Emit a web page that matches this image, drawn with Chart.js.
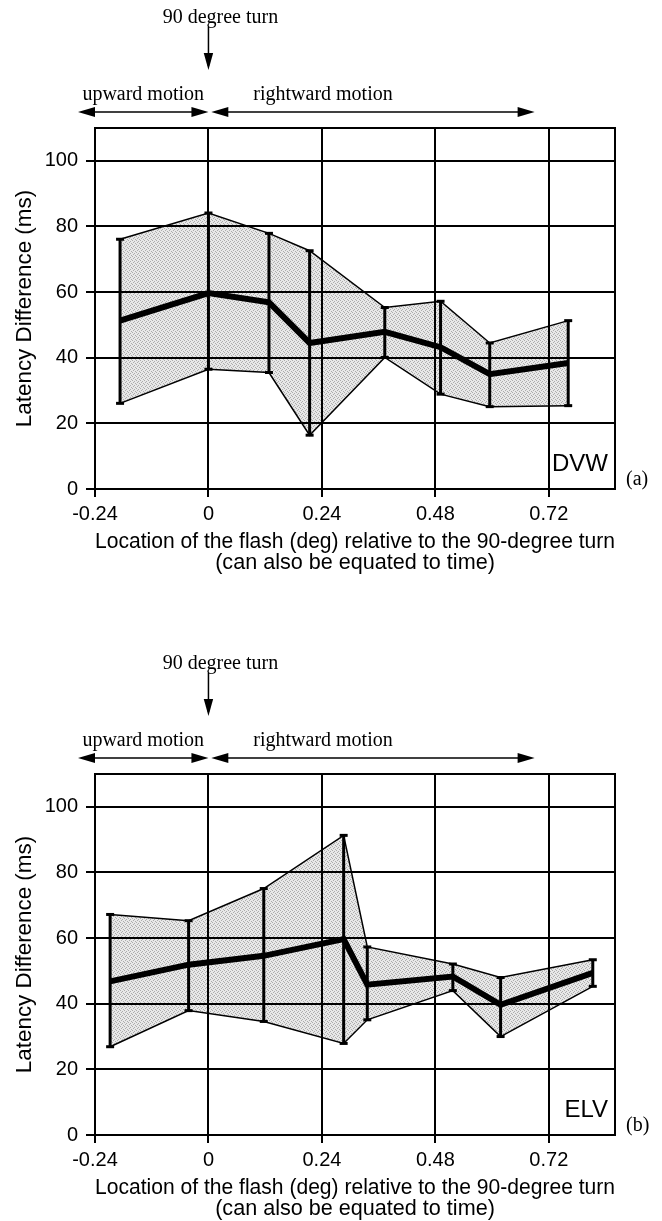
<!DOCTYPE html>
<html>
<head>
<meta charset="utf-8">
<script src="https://cdn.jsdelivr.net/npm/chart.js@4.4.0/dist/chart.umd.min.js"></script>
<style>
  html, body { margin: 0; padding: 0; background: #fff; }
  body { width: 662px; height: 1221px; position: relative; overflow: hidden; }
  canvas { position: absolute; left: 0; }
  #chartA { top: 0; }
  #chartB { top: 646px; }
</style>
</head>
<body>
<canvas id="chartA" width="662" height="575"></canvas>
<canvas id="chartB" width="662" height="575"></canvas>
<script>
'use strict';

// ticks
const xTicks = [-0.24, 0, 0.24, 0.48, 0.72];
const yTicks = [0, 20, 40, 60, 80, 100];

// (a) DVW
const dvwX    = [-0.187, 0, 0.128, 0.214, 0.373, 0.491, 0.595, 0.761];
const dvwMean = [51.3, 59.7, 56.9, 44.5, 47.9, 43.2, 35.0, 38.4];
const dvwHigh = [76.1, 84.1, 77.9, 72.6, 55.3, 57.2, 44.5, 51.3];
const dvwLow  = [26.1, 36.5, 35.5, 16.4, 40.1, 28.9, 25.1, 25.4];

// (b) ELV
const elvX    = [-0.208, -0.042, 0.117, 0.286, 0.336, 0.517, 0.618, 0.813];
const elvMean = [46.8, 51.9, 54.6, 59.7, 45.8, 48.3, 39.7, 49.4];
const elvHigh = [67.2, 65.3, 75.1, 91.3, 57.3, 52.1, 48.0, 53.4];
const elvLow  = [26.9, 37.9, 34.6, 27.9, 35.1, 44.0, 30.0, 45.3];

// anotaciones de arriba (en unidades del eje x)
const turnX = 0;
const upwardSpan = [-0.276, 0];
const rightwardSpan = [0.006, 0.69];

const SANS = '"Liberation Sans", Arial, sans-serif';
const SERIF = '"Liberation Serif", "Times New Roman", serif';

function patronGris() {
    const c = document.createElement('canvas');
    c.width = 4; c.height = 4;
    const g = c.getContext('2d');
    g.fillStyle = 'rgba(0,0,0,0.09)';
    g.fillRect(0, 0, 4, 4);
    g.fillStyle = 'rgba(0,0,0,0.26)';
    g.fillRect(0, 0, 1, 1);
    g.fillRect(2, 1, 1, 1);
    g.fillRect(1, 2, 1, 1);
    g.fillRect(3, 3, 1, 1);
    return g.createPattern(c, 'repeat');
}

function punta(ctx, x, y, ang, largo, ancho) {
    ctx.save();
    ctx.translate(x, y);
    ctx.rotate(ang);
    ctx.beginPath();
    ctx.moveTo(0, 0);
    ctx.lineTo(-largo, -ancho);
    ctx.lineTo(-largo, ancho);
    ctx.closePath();
    ctx.fill();
    ctx.restore();
}

// barras de error + marco + textos
const extras = {
    id: 'extras',
    afterDatasetsDraw(chart, args, opts) {
        const ctx = chart.ctx;
        const xs = chart.scales.x, ys = chart.scales.y;
        ctx.save();
        ctx.strokeStyle = '#000';
        ctx.lineWidth = 3;
        opts.xs.forEach((x, i) => {
            const px = xs.getPixelForValue(x);
            ctx.beginPath();
            ctx.moveTo(px, ys.getPixelForValue(opts.highs[i]));
            ctx.lineTo(px, ys.getPixelForValue(opts.lows[i]));
            ctx.stroke();
        });
        ctx.restore();
    },
    afterDraw(chart, args, opts) {
        const ctx = chart.ctx;
        const a = chart.chartArea;
        const xs = chart.scales.x;
        ctx.save();
        ctx.strokeStyle = '#000';
        ctx.fillStyle = '#000';
        ctx.lineWidth = 2;
        ctx.strokeRect(a.left, a.top, a.right - a.left, a.bottom - a.top);

        // sujeto y letra
        ctx.font = '24px ' + SANS;
        ctx.textAlign = 'right';
        ctx.textBaseline = 'alphabetic';
        ctx.fillText(opts.sujeto, a.right - 7, a.bottom - 18);
        ctx.font = '20px ' + SERIF;
        ctx.textAlign = 'left';
        ctx.fillText(opts.letra, a.right + 11, a.bottom - 4);

        // 90 degree turn
        const p0 = xs.getPixelForValue(turnX);
        ctx.textAlign = 'center';
        ctx.fillText('90 degree turn', p0 + 12, a.top - 105);
        ctx.lineWidth = 1.5;
        ctx.beginPath();
        ctx.moveTo(p0, a.top - 101);
        ctx.lineTo(p0, a.top - 62);
        ctx.stroke();
        punta(ctx, p0, a.top - 58, Math.PI / 2, 17, 4.7);

        // flechas de movimiento
        const yFl = a.top - 16;
        const u1 = xs.getPixelForValue(upwardSpan[0]), u2 = xs.getPixelForValue(upwardSpan[1]);
        const r1 = xs.getPixelForValue(rightwardSpan[0]), r2 = xs.getPixelForValue(rightwardSpan[1]);
        [[u1, u2], [r1, r2]].forEach(([x1, x2]) => {
            ctx.beginPath();
            ctx.moveTo(x1 + 10, yFl);
            ctx.lineTo(x2 - 10, yFl);
            ctx.stroke();
            punta(ctx, x1, yFl, Math.PI, 17, 5);
            punta(ctx, x2, yFl, 0, 17, 5);
        });
        ctx.fillText('upward motion', (u1 + u2) / 2, a.top - 28);
        ctx.textAlign = 'left';
        ctx.fillText('rightward motion', r1 + 42, a.top - 28);
        ctx.restore();
    }
};

function crearGrafica(idCanvas, xs, medias, altos, bajos, sujeto, letra) {
    const ctx = document.getElementById(idCanvas).getContext('2d');
    const pts = arr => xs.map((x, i) => ({ x: x, y: arr[i] }));

    return new Chart(ctx, {
        type: 'line',
        data: {
            datasets: [{
                data: pts(altos),
                borderColor: '#000',
                borderWidth: 1.5,
                backgroundColor: patronGris(),
                fill: '+1',
                pointStyle: 'line',
                pointRadius: 4,
                pointBorderWidth: 3,
                pointBorderColor: '#000',
                tension: 0
            }, {
                data: pts(bajos),
                borderColor: '#000',
                borderWidth: 1.5,
                fill: false,
                pointStyle: 'line',
                pointRadius: 4,
                pointBorderWidth: 3,
                pointBorderColor: '#000',
                tension: 0
            }, {
                data: pts(medias),
                borderColor: '#000',
                borderWidth: 6,
                fill: false,
                pointRadius: 0,
                borderJoinStyle: 'miter',
                tension: 0
            }]
        },
        options: {
            responsive: false,
            animation: false,
            layout: { padding: { top: 128, right: 47, left: 0, bottom: 0 } },
            scales: {
                x: {
                    type: 'linear',
                    min: -0.24,
                    max: 0.86,
                    afterBuildTicks: s => { s.ticks = xTicks.map(v => ({ value: v })); },
                    afterFit: s => { s.height = 86; },
                    ticks: {
                        color: '#000',
                        font: { family: SANS, size: 20 },
                        padding: 5,
                        maxRotation: 0,
                        autoSkip: false,
                        callback: v => String(v)
                    },
                    grid: { color: '#000', lineWidth: 2, tickLength: 8 },
                    border: { color: '#000', width: 2 },
                    title: {
                        display: true,
                        text: ['Location of the flash (deg) relative to the 90-degree turn',
                               '(can also be equated to time)'],
                        color: '#000',
                        font: { family: SANS, size: 21.6, lineHeight: 1 },
                        padding: { top: 0, bottom: 1 }
                    }
                },
                y: {
                    type: 'linear',
                    min: 0,
                    max: 110,
                    afterBuildTicks: s => { s.ticks = yTicks.map(v => ({ value: v })); },
                    afterFit: s => { s.width = 95; },
                    ticks: {
                        color: '#000',
                        font: { family: SANS, size: 20 },
                        padding: 8
                    },
                    grid: { color: '#000', lineWidth: 2, tickLength: 9 },
                    border: { color: '#000', width: 2 },
                    title: {
                        display: true,
                        text: 'Latency Difference (ms)',
                        color: '#000',
                        font: { family: SANS, size: 22.4 },
                        padding: { top: 11, bottom: 0 }
                    }
                }
            },
            plugins: {
                legend: { display: false },
                tooltip: { enabled: false },
                extras: { xs: xs, highs: altos, lows: bajos, sujeto: sujeto, letra: letra }
            }
        },
        plugins: [extras]
    });
}

crearGrafica('chartA', dvwX, dvwMean, dvwHigh, dvwLow, 'DVW', '(a)');
crearGrafica('chartB', elvX, elvMean, elvHigh, elvLow, 'ELV', '(b)');
</script>
</body>
</html>
